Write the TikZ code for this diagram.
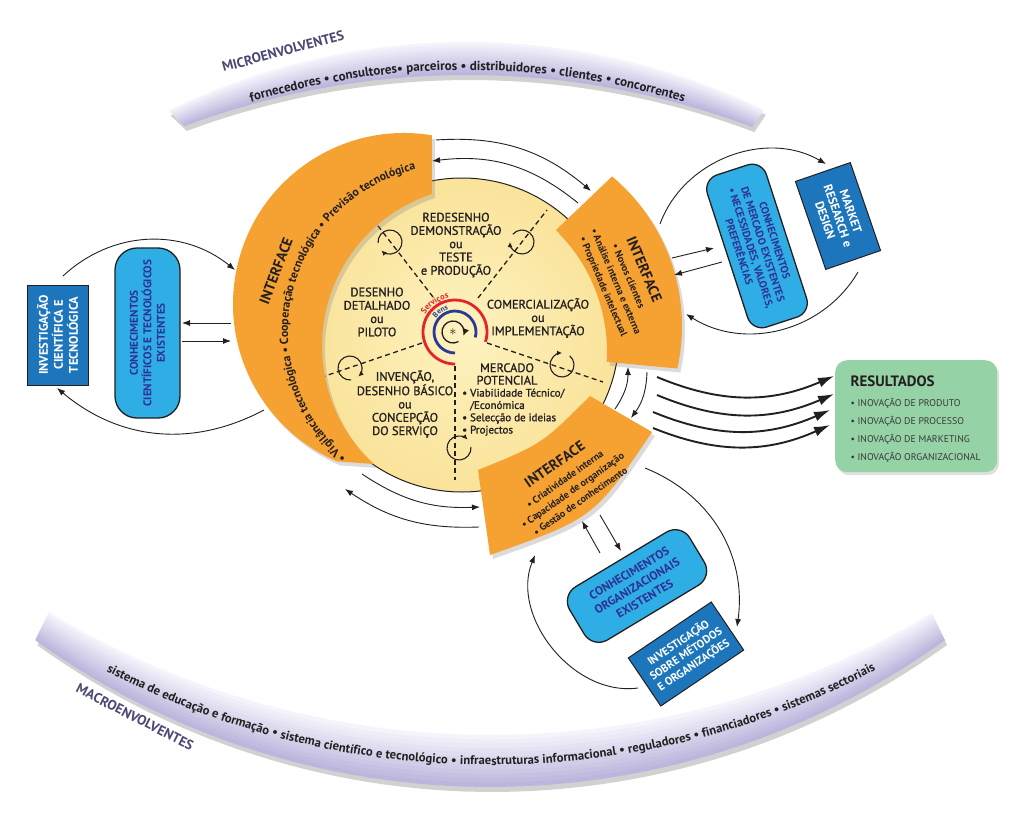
\documentclass[tikz,border=0pt]{standalone}
\usepackage{fontspec}
\setmainfont{PT Sans}
\newfontfamily\medfont{PT Sans}[RawFeature={embolden=1.1}]
\usetikzlibrary{arrows.meta,calc,decorations.text,shadows}
\definecolor{orangeC}{HTML}{F5A233}
\definecolor{yelIn}{HTML}{FDF2BF}
\definecolor{yelOut}{HTML}{FAE39A}
\definecolor{lblue}{HTML}{2EAEE4}
\definecolor{dblue}{HTML}{1D76BB}
\definecolor{navyT}{HTML}{2E3192}
\definecolor{greenC}{HTML}{95D3A6}
\definecolor{lavL}{HTML}{F7F6FC}
\definecolor{lavD}{HTML}{B9B3DB}
\definecolor{envT}{HTML}{4A4874}
\definecolor{redC}{HTML}{E5232B}
\definecolor{blueC}{HTML}{2B3A98}
\definecolor{inkC}{HTML}{231F20}
\definecolor{itemC}{HTML}{3A3A3A}
\tikzset{
  arr/.style={line width=0.9pt,inkC,-{Latex[length=8pt,width=6pt]}},
  resarr/.style={line width=1.9pt,inkC,-{Latex[length=16pt,width=10pt]}},
  band/.style={fill=orangeC,drop shadow={opacity=0.28,shadow xshift=3pt,shadow yshift=-4pt}},
  dkbox/.style={draw=inkC,line width=1pt,fill=dblue,text=white,align=center,inner sep=0pt,font=\fontsize{12}{14}\selectfont\bfseries},
  ltbox/.style={draw=inkC,line width=1.3pt,fill=lblue,text=navyT,align=center,inner sep=0pt,font=\fontsize{11}{13}\selectfont\bfseries},
  ctext/.style={align=center,text=inkC,font=\medfont\fontsize{12.4}{13.3}\selectfont},
  itext/.style={align=center,text=inkC,font=\fontsize{10}{13.5}\selectfont\bfseries},
  ifont/.style={text=inkC,font=\fontsize{14.5}{16}\selectfont\bfseries},
  dline/.style={dash pattern=on 5pt off 3.5pt,line width=1.3pt,inkC},
  cyc/.style={line width=1.1pt,inkC,-{Latex[length=5pt,width=5pt]}},
  envlabel/.style={text=envT,font=\fontsize{13.8}{15}\selectfont\bfseries},
  resitem/.style={anchor=west,text=itemC,font=\fontsize{9.8}{11}\selectfont},
}
\begin{document}
\begin{tikzpicture}[x=1pt,y=-1pt,
  declare function={
    tbx(\p,\q)=(1-\q)*(467+683*cos(-115.9+51.7*\p))+\q*(467+807*cos(-110.5+41.2*\p));
    tby(\p,\q)=(1-\q)*(725+683*sin(-115.9+51.7*\p))+\q*(882+807*sin(-110.5+41.2*\p));
    bbx(\p,\q)=(1-\q)*(491+859*cos(121-61.9*\p))+\q*(490+778*cos(125.8-71.6*\p));
    bby(\p,\q)=(1-\q)*(-124+859*sin(121-61.9*\p))+\q*(9+778*sin(125.8-71.6*\p));
  }]
\useasboundingbox (0,0) rectangle (1024,813);
\fill[white] (0,0) rectangle (1024,813);

% ---------- lavender environment bands ----------
\fill[black,opacity=0.18] plot[domain=0:1,samples=60,variable=\u] ({tbx(\u,0)+2},{tby(\u,0)+5}) -- plot[domain=1:0,samples=60,variable=\u] ({tbx(\u,1)+2},{tby(\u,1)+5}) -- cycle;
\fill[black,opacity=0.18] plot[domain=0:1,samples=60,variable=\u] ({bbx(\u,0)+2},{bby(\u,0)+5}) -- plot[domain=1:0,samples=60,variable=\u] ({bbx(\u,1)+2},{bby(\u,1)+5}) -- cycle;
\foreach \k in {0,...,11}{
  \pgfmathsetmacro\ta{\k/12}
  \pgfmathsetmacro\tb{min(1,(\k+1.3)/12)}
  \pgfmathtruncatemacro\pc{(\k+0.5)/12*100}
  \fill[lavD!\pc!lavL] plot[domain=0:1,samples=60,variable=\u] ({tbx(\u,\ta)},{tby(\u,\ta)}) -- plot[domain=1:0,samples=60,variable=\u] ({tbx(\u,\tb)},{tby(\u,\tb)}) -- cycle;
  \fill[lavD!\pc!lavL] plot[domain=0:1,samples=60,variable=\u] ({bbx(\u,\ta)},{bby(\u,\ta)}) -- plot[domain=1:0,samples=60,variable=\u] ({bbx(\u,\tb)},{bby(\u,\tb)}) -- cycle;
}
\path[decorate,decoration={text along path,text align=center,text color=inkC,
  text={|\fontsize{13}{14}\selectfont\bfseries|fornecedores • consultores• parceiros • distribuidores • clientes • concorrentes}}]
  ($(467,810)+(-125:740)$) arc[start angle=-125,end angle=-55,radius=740];
\path[decorate,decoration={text along path,text align=center,text color=inkC,
  text={|\fontsize{12.6}{14}\selectfont\bfseries|sistema de educação e formação • sistema científico e tecnológico • infraestruturas informacional • reguladores • financiadores • sistemas sectoriais}}]
  ($(490,-65)+(128:830)$) arc[start angle=128,end angle=52,radius=830];
\node[envlabel,rotate=15] (micro) at (283,51) {MICROENVOLVENTES};
\node[envlabel,rotate=-27] (macro) at (135,717) {MACROENVOLVENTES};

% ---------- central circle ----------
\coordinate (cc) at (455,332);
\shade[inner color=yelIn,outer color=yelOut] (462,335) circle[radius=157];
\draw[inkC,line width=1pt] (462,335) circle[radius=157];

\coordinate (d1i) at (433,297); \coordinate (d1o) at (375,222);
\coordinate (d2i) at (478,298); \coordinate (d2o) at (547,210);
\coordinate (d3i) at (487,343); \coordinate (d3o) at (603,382);
\coordinate (d4i) at (455,366); \coordinate (d4o) at (455,480);
\coordinate (d5i) at (422,343); \coordinate (d5o) at (325,376);
\draw[dline] (d1i) -- (d1o);
\draw[dline] (d2i) -- (d2o);
\draw[dline] (d3i) -- (d3o);
\draw[dline] (d4i) -- (d4o);
\draw[dline] (d5i) -- (d5o);

\foreach \cx/\cy/\e in {390/242/135, 522/242/180, 562/365/270, 459/448/315, 350/368/405}
  \draw[cyc] ($(\cx,\cy)+(\e-320:12)$) arc[start angle=\e-320,end angle=\e,radius=12];

\draw[redC,line width=2.8pt] ($(cc)+(90:32)$) arc[start angle=90,end angle=378,radius=32];
\draw[blueC,line width=2.8pt] ($(cc)+(90:21)$) arc[start angle=90,end angle=375,radius=21];
\draw[line width=1.3pt,inkC,-{Latex[length=7pt,width=7pt]}] ($(453,332)+(60:11)$) arc[start angle=60,end angle=380,radius=11];
\node[inkC,font=\fontsize{14}{14}\selectfont] (star) at (453,332) {$\ast$};
\path[decorate,decoration={text along path,text align=center,text color=redC,
  text={|\fontsize{8.5}{9}\selectfont\bfseries|Serviços}}]
  ($(cc)+(190:34.5)$) arc[start angle=190,end angle=280,radius=34.5];
\path[decorate,decoration={text along path,text align=center,text color=blueC,
  text={|\fontsize{7.5}{8}\selectfont\bfseries|Bens}}]
  ($(cc)+(200:23.5)$) arc[start angle=200,end angle=270,radius=23.5];

\node[ctext] (t1) at (456,245) {REDESENHO\\DEMONSTRAÇÃO\\ou\\TESTE\\e PRODUÇÃO};
\node[ctext] (t2) at (377,312) {DESENHO\\DETALHADO\\ou\\PILOTO};
\node[ctext] (t3) at (538,318) {COMERCIALIZAÇÃO\\ou\\IMPLEMENTAÇÃO};
\node[ctext] (t4) at (405,404) {INVENÇÃO,\\DESENHO BÁSICO\\ou\\CONCEPÇÃO\\DO SERVIÇO};
\node[ctext,font=\medfont\fontsize{12.4}{12.5}\selectfont] (t5) at (507,374) {MERCADO\\POTENCIAL};
\node[align=left,anchor=north west,inner sep=0pt,text=inkC,font=\medfont\fontsize{11}{12.3}\selectfont] (t6) at (462,388.5)
  {• Viabilidade Técnico/\\\hphantom{• }/Económica\\• Selecção de ideias\\• Projectos};

% ---------- orange interface bands ----------
\path[band] ($(404,304)+(-80.6:171)$) arc[start angle=-80.6,end angle=-247,radius=171]
  -- ($(482,346)+(132.5:160)$) arc[start angle=132.5,end angle=251.7,radius=160] -- cycle;
\path[band] (556,230) -- ($(487,326)+(-50.1:195)$) arc[start angle=-50.1,end angle=12.6,radius=195]
  -- ($(436,352)+(3.3:171)$) arc[start angle=3.3,end angle=-45.5,radius=171] -- cycle;
\path[band] (478,470) .. controls (542,444) .. (590,396) -- (652,432)
  .. controls (594,518) .. (490,555) -- cycle;

\node[ifont,rotate=69] (iL) at (276,271) {INTERFACE};
\path[decorate,decoration={text along path,text align=center,text color=inkC,
  text={|\fontsize{11.8}{13}\selectfont\bfseries|• Vigilância tecnológica • Cooperação tecnológica • Previsão tecnológica}}]
  ($(454,331)+(115:166)$) arc[start angle=115,end angle=272,radius=166];
\node[itext,rotate=-67] (iR) at (624,278) {{\fontsize{14.5}{16}\selectfont INTERFACE}\\[2pt]• Novos clientes\\• Análise interna e externa\\• Propriedade intelectual};
\node[itext,rotate=35] (iB) at (567,482) {{\fontsize{14.5}{16}\selectfont INTERFACE}\\[3pt]• Criatividade interna\\• Capacidade de organização\\• Gestão de conhecimento};

% ---------- knowledge / research boxes ----------
\node[dkbox,rotate=90,minimum width=100,minimum height=61,font=\fontsize{12.5}{15}\selectfont\bfseries] (invL) at (57.5,335) {INVESTIGAÇÃO\\CIENTÍFICA E\\TECNOLÓGICA};
\node[ltbox,rotate=90,rounded corners=22pt,minimum width=170,minimum height=65,font=\fontsize{11.2}{13.5}\selectfont\bfseries] (conL) at (147.5,333) {CONHECIMENTOS\\CIENTÍFICOS E TECNOLÓGICOS\\EXISTENTES};
\node[ltbox,rotate=-72,rounded corners=15pt,minimum width=160,minimum height=62,font=\fontsize{10.6}{12.5}\selectfont\bfseries] (conR) at (757,246) {CONHECIMENTOS\\DE MERCADO EXISTENTES\\• NECESSIDADES, VALORES,\\PREFERÊNCIAS};
\node[dkbox,rotate=-71,minimum width=93,minimum height=58,font=\fontsize{12.2}{13.5}\selectfont\bfseries] (mkt) at (838,216) {MARKET\\RESEARCH e\\DESIGN};
\node[ltbox,rotate=31,rounded corners=17pt,minimum width=140,minimum height=62,font=\fontsize{12}{15}\selectfont\bfseries] (conB) at (637,586) {CONHECIMENTOS\\ORGANIZACIONAIS\\EXISTENTES};
\node[dkbox,rotate=34,minimum width=100,minimum height=58,font=\fontsize{11.2}{13.5}\selectfont\bfseries] (invB) at (686,654) {INVESTIGAÇÃO\\SOBRE MÉTODOS\\E ORGANIZAÇÕES};

% ---------- results ----------
\node[fill=greenC,rounded corners=12pt,minimum width=162,minimum height=112,anchor=north west,
  drop shadow={opacity=0.25,shadow xshift=2pt,shadow yshift=-3pt}] (res) at (835,360) {};
\node[anchor=west,text=inkC,font=\fontsize{15}{16}\selectfont\bfseries] (resT) at (847,381) {RESULTADOS};
\node[resitem] (rs1) at (847,403) {• INOVAÇÃO DE PRODUTO};
\node[resitem] (rs2) at (847,421) {• INOVAÇÃO DE PROCESSO};
\node[resitem] (rs3) at (847,439) {• INOVAÇÃO DE MARKETING};
\node[resitem] (rs4) at (847,457) {• INOVAÇÃO ORGANIZACIONAL};

% ---------- connectors ----------
\coordinate (a1s) at (63,276);  \coordinate (a1e) at (235,270);
\coordinate (a2s) at (264,410); \coordinate (a2e) at (57,388);
\coordinate (a3s) at (231,323); \coordinate (a3e) at (182,323);
\coordinate (a4s) at (182,341); \coordinate (a4e) at (231,341);
\draw[arr] (a1s) to[bend left=41] (a1e);
\draw[arr] (a2s) to[bend left=34] (a2e);
\draw[arr] (a3s) -- (a3e);
\draw[arr] (a4s) -- (a4e);

\coordinate (b1s) at (436,140); \coordinate (b1e) at (591,191);
\coordinate (b2s) at (578,203); \coordinate (b2e) at (432,161);
\draw[arr] (b1s) to[bend left=22] (b1e);
\draw[arr] (b2s) to[bend right=23] (b2e);

\coordinate (c1s) at (660,224); \coordinate (c1e) at (826,164);
\coordinate (c2s) at (858,272); \coordinate (c2e) at (686,314);
\coordinate (c3s) at (672,258); \coordinate (c3e) at (714,248);
\coordinate (c4s) at (722,262); \coordinate (c4e) at (674,275);
\draw[arr] (c1s) to[bend left=50] (c1e);
\draw[arr] (c2s) to[bend left=46] (c2e);
\draw[arr] (c3s) -- (c3e);
\draw[arr] (c4s) -- (c4e);

\coordinate (s1s) at (615,409); \coordinate (s1e) at (628,367);
\coordinate (s2s) at (647,372); \coordinate (s2e) at (631,418);
\draw[arr] (s1s) to[bend right=17] (s1e);
\draw[arr] (s2s) to[bend left=17] (s2e);

\coordinate (e1s) at (362,474); \coordinate (e1e) at (480,507);
\coordinate (e2s) at (479,527); \coordinate (e2e) at (345,489);
\draw[arr] (e1s) to[bend right=18] (e1e);
\draw[arr] (e2s) to[bend left=18] (e2e);

\coordinate (f1s) at (600,553); \coordinate (f1e) at (582,521);
\coordinate (f2s) at (600,515); \coordinate (f2e) at (621,551);
\coordinate (f3s) at (638,688); \coordinate (f3e) at (535,555);
\coordinate (f4s) at (645,468); \coordinate (f4e) at (737,627);
\draw[arr] (f1s) -- (f1e);
\draw[arr] (f2s) -- (f2e);
\draw[arr] (f3s) to[bend left=60] (f3e);
\draw[arr] (f4s) to[bend left=38] (f4e);

\coordinate (r1s) at (657,377); \coordinate (r1e) at (834,376);
\coordinate (r2s) at (657,395); \coordinate (r2e) at (834,394);
\coordinate (r3s) at (653,412); \coordinate (r3e) at (830,410);
\coordinate (r4s) at (653,428); \coordinate (r4e) at (830,425);
\draw[resarr] (r1s) to[bend right=23] (r1e);
\draw[resarr] (r2s) to[bend right=23] (r2e);
\draw[resarr] (r3s) to[bend right=23] (r3e);
\draw[resarr] (r4s) to[bend right=23] (r4e);
\end{tikzpicture}
\end{document}
